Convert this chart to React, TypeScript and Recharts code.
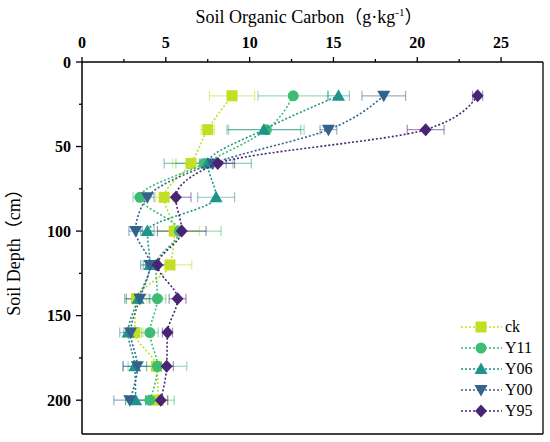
import React from 'react';
import {
  ScatterChart,
  Scatter,
  XAxis,
  YAxis,
  ErrorBar,
  ReferenceLine,
  Legend,
} from 'recharts';

document.body.style.margin = '0';

const FONT = "'Liberation Serif', 'Times New Roman', 'Noto Sans CJK SC', serif";

const depths = [20, 40, 60, 80, 100, 120, 140, 160, 180, 200];

const ck = [8.95, 7.5, 6.5, 4.9, 5.5, 5.25, 3.25, 3.15, 4.45, 4.55];
const ckErr = [1.35, 0.4, 1.1, 0.5, 1.5, 1.3, 0.6, 0.5, 0.6, 0.6];
const y11 = [12.6, 11.0, 7.3, 3.45, 5.8, 4.4, 4.5, 4.05, 4.5, 4.05];
const y11Err = [2.1, 2.25, 1.7, 0.4, 2.5, 0.6, 0.5, 0.5, 1.75, 1.45];
const y06 = [15.3, 10.85, 7.5, 8.0, 3.9, 4.05, 3.35, 2.75, 3.15, 3.2];
const y06Err = [0.65, 2.2, 2.6, 1.1, 0.4, 0.4, 0.7, 0.5, 0.7, 0.6];
const y00 = [18.0, 14.7, 7.8, 3.9, 3.2, 4.05, 3.45, 2.9, 3.3, 2.85];
const y00Err = [1.3, 0.5, 0.8, 0.4, 0.4, 0.55, 0.9, 0.4, 0.85, 0.95];
const y95 = [23.6, 20.5, 8.1, 5.6, 5.95, 4.5, 5.7, 5.1, 5.05, 4.7];
const y95Err = [0.3, 1.1, 1.0, 0.9, 1.45, 0.5, 0.5, 0.3, 0.4, 0.4];

const xTicks = [0, 2.5, 5, 7.5, 10, 12.5, 15, 17.5, 20, 22.5, 25];
const yTicks = [0, 25, 50, 75, 100, 125, 150, 175, 200];

const SERIES = [
  { name: 'ck', vals: ck, errs: ckErr, color: '#c2df23', kind: 'square' },
  { name: 'Y11', vals: y11, errs: y11Err, color: '#3dbc74', kind: 'circle' },
  { name: 'Y06', vals: y06, errs: y06Err, color: '#1f948c', kind: 'up' },
  { name: 'Y00', vals: y00, errs: y00Err, color: '#33628d', kind: 'down' },
  { name: 'Y95', vals: y95, errs: y95Err, color: '#482475', kind: 'diamond' },
];

const textStyle = { fontFamily: FONT, fontSize: 18 };
const boldStyle = { fontFamily: FONT, fontWeight: 700, fontSize: 16 };

function Marker({ kind, cx, cy, fill }: { kind: string; cx: number; cy: number; fill: string }) {
  if (kind === 'square') return <rect x={cx - 5.5} y={cy - 5.5} width={11} height={11} fill={fill} />;
  if (kind === 'circle') return <circle cx={cx} cy={cy} r={5.5} fill={fill} />;
  if (kind === 'up')
    return <polygon points={`${cx},${cy - 6.5} ${cx + 6.5},${cy + 5} ${cx - 6.5},${cy + 5}`} fill={fill} />;
  if (kind === 'down')
    return <polygon points={`${cx - 6.5},${cy - 5} ${cx + 6.5},${cy - 5} ${cx},${cy + 6.5}`} fill={fill} />;
  return <polygon points={`${cx},${cy - 6.5} ${cx + 6},${cy} ${cx},${cy + 6.5} ${cx - 6},${cy}`} fill={fill} />;
}

function XTick(props: any) {
  const { x, y, payload } = props;
  const v = payload.value;
  const major = v % 5 === 0;
  return (
    <g>
      <line x1={x} x2={x} y1={y} y2={y - (major ? 5 : 3)} stroke="#000" strokeWidth={1.3} />
      {major && (
        <text x={x} y={y - 14} textAnchor="middle" style={boldStyle} fill="#000">
          {v}
        </text>
      )}
    </g>
  );
}

function YTick(props: any) {
  const { x, y, payload } = props;
  const v = payload.value;
  const major = v % 50 === 0;
  return (
    <g>
      <line x1={x} x2={x - (major ? 6 : 3)} y1={y} y2={y} stroke="#000" strokeWidth={1.3} />
      {major && (
        <text x={x - 11} y={y + 5.5} textAnchor="end" style={boldStyle} fill="#000">
          {v}
        </text>
      )}
    </g>
  );
}

function LegendBox() {
  return (
    <div style={{ fontFamily: FONT, fontSize: 16, color: '#000' }}>
      {SERIES.map((s) => (
        <div key={s.name} style={{ display: 'flex', alignItems: 'center', height: 21 }}>
          <svg width={44} height={16}>
            <line x1={0} x2={41} y1={8} y2={8} stroke={s.color} strokeWidth={1.5} strokeDasharray="2 2" />
            <Marker kind={s.kind} cx={20} cy={8} fill={s.color} />
          </svg>
          <span style={{ lineHeight: '16px' }}>{s.name}</span>
        </div>
      ))}
    </div>
  );
}

export default function App() {
  return (
    <ScatterChart width={550} height={442} margin={{ top: 0, right: 7, bottom: 8, left: 0 }}>
      <XAxis
        type="number"
        dataKey="x"
        orientation="top"
        domain={[0, 27.5]}
        ticks={xTicks}
        interval={0}
        allowDataOverflow
        height={62}
        tickSize={0}
        tickMargin={0}
        tickLine={false}
        tick={<XTick />}
        axisLine={{ stroke: '#000', strokeWidth: 1.5 }}
      />
      <YAxis
        type="number"
        dataKey="y"
        reversed
        domain={[0, 220]}
        ticks={yTicks}
        interval={0}
        allowDataOverflow
        width={82}
        tickSize={0}
        tickMargin={0}
        tickLine={false}
        tick={<YTick />}
        axisLine={{ stroke: '#000', strokeWidth: 1.5 }}
      />
      <ReferenceLine x={27.5} stroke="#000" strokeWidth={1.3} ifOverflow="visible" />
      <ReferenceLine y={220} stroke="#000" strokeWidth={1.3} ifOverflow="visible" />
      {SERIES.map((s) => (
        <Scatter
          key={s.name}
          name={s.name}
          data={depths.map((d, i) => ({ x: s.vals[i], y: d, err: s.errs[i] }))}
          fill={s.color}
          line={{ stroke: s.color, strokeWidth: 1.6, strokeDasharray: '2 2' }}
          lineJointType="monotoneY"
          shape={(p: any) => <Marker kind={s.kind} cx={p.cx} cy={p.cy} fill={s.color} />}
          isAnimationActive={false}
        >
          <ErrorBar dataKey="err" direction="x" width={5} stroke={s.color} strokeOpacity={0.5} strokeWidth={1.2} />
        </Scatter>
      ))}
      <Legend
        layout="vertical"
        align="center"
        verticalAlign="middle"
        content={() => <LegendBox />}
        wrapperStyle={{ left: 461, top: 316, width: 85 }}
      />
      <text x={309} y={23} textAnchor="middle" style={textStyle} fill="#000">
        Soil Organic Carbon（g·kg
        <tspan dy={-7} style={{ fontSize: 11 }}>-1</tspan>
        <tspan dy={7}>）</tspan>
      </text>
      <text
        x={20}
        y={248}
        transform="rotate(-90 20 248)"
        textAnchor="middle"
        style={textStyle}
        fill="#000"
      >
        Soil Depth（cm）
      </text>
    </ScatterChart>
  );
}
